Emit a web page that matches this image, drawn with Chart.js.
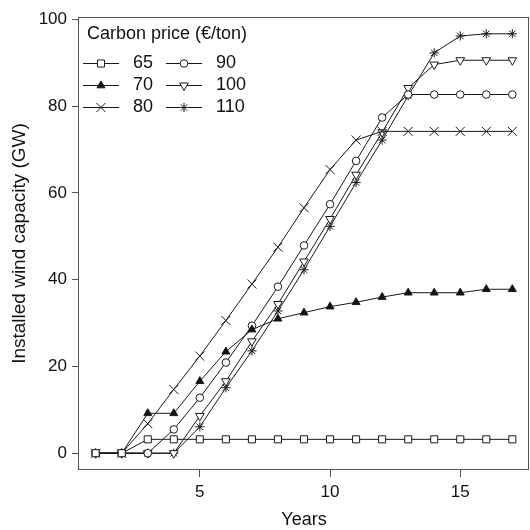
<!DOCTYPE html>
<html>
<head>
<meta charset="utf-8">
<script src="https://cdn.jsdelivr.net/npm/chart.js@4.4.1/dist/chart.umd.min.js"></script>
<style>
html,body{margin:0;padding:0;background:#fff;}
canvas{display:block;}
</style>
</head>
<body>
<canvas id="c" width="530" height="530"></canvas>
<script>
// ---- data ----
const years = [1,2,3,4,5,6,7,8,9,10,11,12,13,14,15,16,17];
const prices = ["65","70","80","90","100","110"];
const cap65  = [0,0,3.2,3.2,3.2,3.2,3.2,3.2,3.2,3.2,3.2,3.2,3.2,3.2,3.2,3.2,3.2];
const cap70  = [0,0,9.2,9.2,16.6,23.4,28.5,31.0,32.4,33.8,34.8,36.0,37.0,37.0,37.0,37.8,37.8];
const cap80  = [0,0,6.8,14.7,22.4,30.6,39.0,47.5,56.6,65.4,72.2,74.2,74.2,74.2,74.2,74.2,74.2];
const cap90  = [0,0,0,5.5,12.8,20.9,29.4,38.4,47.9,57.4,67.4,77.4,82.7,82.7,82.7,82.7,82.7];
const cap100 = [0,0,0,0,8.6,16.6,25.8,34.4,44.2,54.0,64.2,74.0,84.2,89.6,90.6,90.6,90.6];
const cap110 = [0,0,0,0,6.1,15.1,23.6,32.8,42.3,52.3,62.4,72.2,82.4,92.3,96.2,96.7,96.7];
const xTicks = [5,10,15];
const yTicks = [0,20,40,60,80,100];
const legendTitle = "Carbon price (\u20AC/ton)";
const xTitle = "Years";
const yTitle = "Installed wind capacity (GW)";

const series = [cap65, cap70, cap80, cap90, cap100, cap110];
const styles = [
  {pointStyle:'rect', radius:5, rotation:0, fill:'#fff'},
  {pointStyle:'triangle', radius:4.6, rotation:0, fill:'#111'},
  {pointStyle:'crossRot', radius:6.4, rotation:0, fill:'#fff'},
  {pointStyle:'circle', radius:3.8, rotation:0, fill:'#fff'},
  {pointStyle:'triangle', radius:5, rotation:180, fill:'#fff'},
  {pointStyle:'star', radius:4.6, rotation:0, fill:'#fff'}
];
const ink = '#1a1a1a';
const frame = '#555';
const FONT = "'Liberation Sans', Arial, sans-serif";

const datasets = series.map((vals, i) => ({
  label: prices[i],
  data: years.map((y, j) => ({x: y, y: vals[j]})),
  borderColor: ink,
  borderWidth: 1,
  backgroundColor: styles[i].fill,
  pointStyle: styles[i].pointStyle,
  pointRadius: styles[i].radius,
  pointRotation: styles[i].rotation,
  pointBorderColor: ink,
  pointBackgroundColor: styles[i].fill,
  pointBorderWidth: 1,
  pointHoverRadius: styles[i].radius,
  tension: 0,
  fill: false,
  clip: false
}));

const framePlugin = {
  id: 'framePlugin',
  beforeDatasetsDraw(chart) {
    const a = chart.chartArea, ctx = chart.ctx;
    ctx.save();
    ctx.strokeStyle = frame;
    ctx.lineWidth = 1;
    ctx.strokeRect(Math.round(a.left) - 0.5, Math.round(a.top) + 0.5, Math.round(a.right - a.left), Math.round(a.bottom - a.top) - 1);
    ctx.restore();
  }
};

const legendPlugin = {
  id: 'customLegend',
  afterDraw(chart) {
    const ctx = chart.ctx;
    ctx.save();
    ctx.fillStyle = '#111';
    ctx.font = "18px " + FONT;
    ctx.textBaseline = 'middle';
    ctx.textAlign = 'left';
    ctx.fillText(legendTitle, 87, 34);
    const colX = [83, 166];
    const rowY = [63, 85, 107];
    const lineLen = 36;
    chart.data.datasets.forEach((ds, i) => {
      const col = Math.floor(i / 3), row = i % 3;
      const x0 = colX[col], y = rowY[row];
      ctx.strokeStyle = ink;
      ctx.lineWidth = 1;
      ctx.beginPath();
      ctx.moveTo(x0, y + 0.5);
      ctx.lineTo(x0 + lineLen, y + 0.5);
      ctx.stroke();
      ctx.fillStyle = ds.pointBackgroundColor;
      ctx.strokeStyle = ink;
      Chart.helpers.drawPoint(ctx, {pointStyle: ds.pointStyle, rotation: ds.pointRotation, radius: ds.pointRadius, borderWidth: 1}, x0 + lineLen / 2, y + 0.5);
      ctx.fillStyle = '#111';
      ctx.fillText(ds.label, x0 + 50, y);
    });
    ctx.restore();
  }
};

new Chart(document.getElementById('c'), {
  type: 'line',
  data: { datasets },
  options: {
    responsive: false,
    animation: false,
    devicePixelRatio: 1,
    layout: { autoPadding: false, padding: { top: 17, right: 1, left: 0, bottom: 0 } },
    plugins: { legend: { display: false }, tooltip: { enabled: false }, title: { display: false } },
    scales: {
      x: {
        type: 'linear',
        min: 0.36,
        max: 17.64,
        afterBuildTicks: (s) => { s.ticks = xTicks.map(v => ({value: v})); },
        afterFit: (s) => { s.height = 60; },
        grid: { display: true, drawOnChartArea: false, drawTicks: true, tickLength: 7, color: frame, lineWidth: 1 },
        border: { display: false },
        ticks: { color: '#111', font: { family: FONT, size: 17 }, padding: 5, maxRotation: 0, autoSkip: false },
        title: { display: true, text: xTitle, color: '#111', font: { family: FONT, size: 18 }, padding: { top: 0, bottom: -1 } }
      },
      y: {
        type: 'linear',
        min: -3.87,
        max: 100.57,
        afterBuildTicks: (s) => { s.ticks = yTicks.map(v => ({value: v})); },
        afterFit: (s) => { s.width = 79; },
        grid: { display: true, drawOnChartArea: false, drawTicks: true, tickLength: 7, color: frame, lineWidth: 1 },
        border: { display: false },
        ticks: { color: '#111', font: { family: FONT, size: 17 }, padding: 5, autoSkip: false },
        title: { display: true, text: yTitle, color: '#111', font: { family: FONT, size: 19 }, padding: { top: 8, bottom: 0 } }
      }
    }
  },
  plugins: [framePlugin, legendPlugin]
});
</script>
</body>
</html>
